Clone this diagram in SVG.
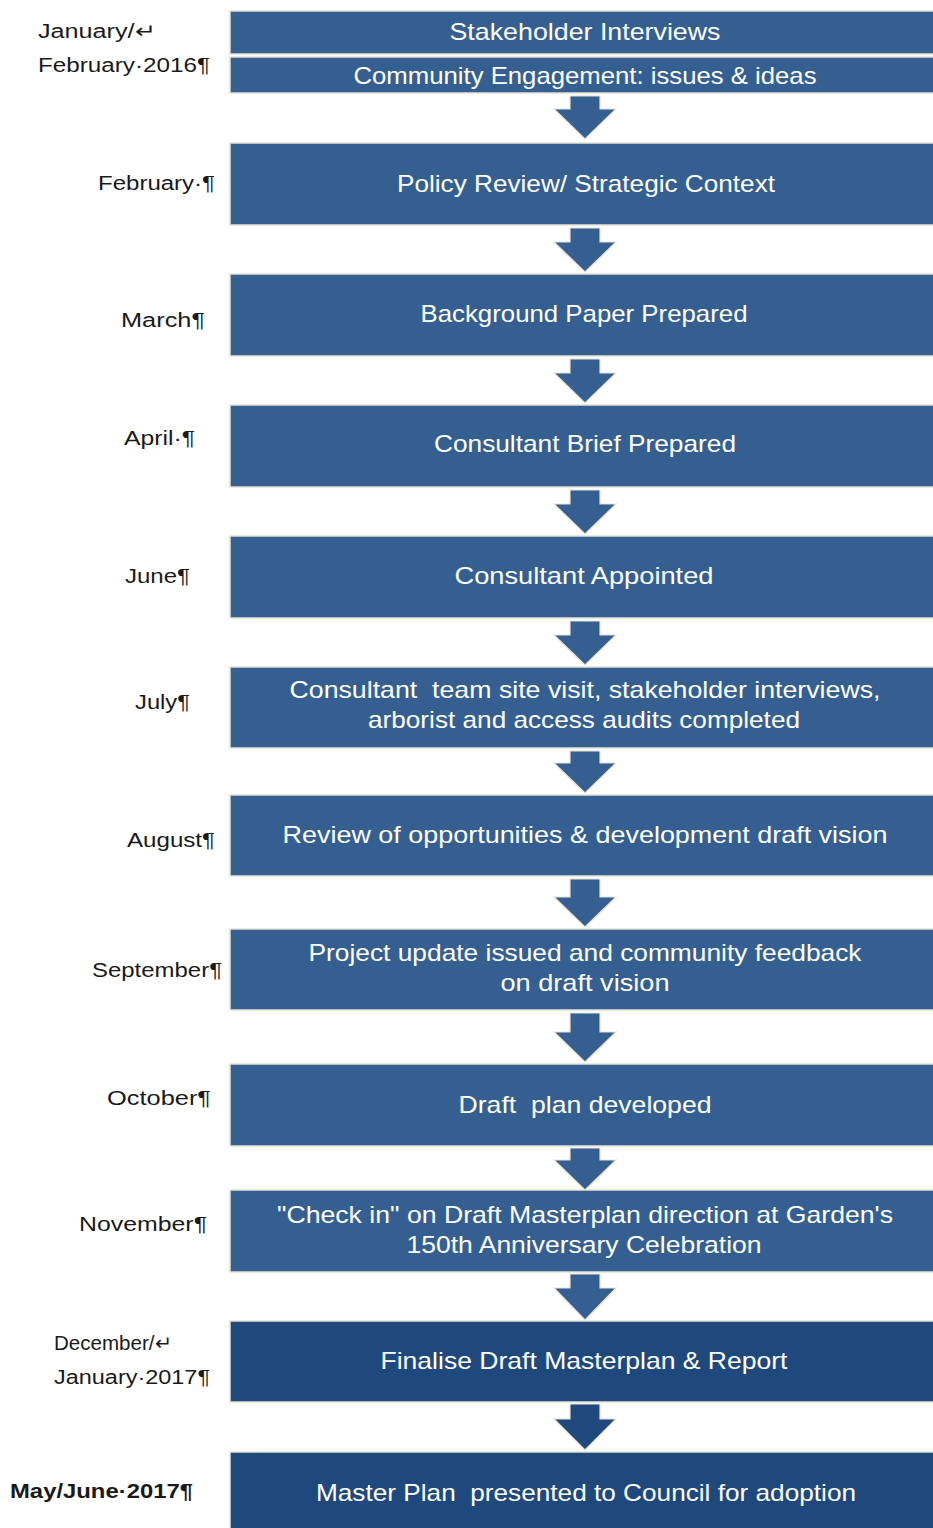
<svg xmlns="http://www.w3.org/2000/svg" width="933" height="1528" viewBox="0 0 933 1528">
<style>
.box{fill:#365F91;stroke:#E6E2D6;stroke-width:1.5}
.dark{fill:#1F497D}
.arr{fill:#365F91;stroke:#E6E2D6;stroke-width:1.2}
.arrd{fill:#1F497D;stroke:#E6E2D6;stroke-width:1.2}
.bt{font-family:"Liberation Sans Narrow","Liberation Sans",Arial,sans-serif;font-size:24px;fill:#FFFFFF;text-anchor:middle}
.lb{font-family:"Liberation Sans","Open Sans",Arial,sans-serif;font-size:20px;fill:#1a1a1a}
.lbb{font-weight:bold}
</style>
<rect width="933" height="1528" fill="#FFFFFF"/>
<g id="connectors">
<path class="arr" d="M570,96 H600 V109 H616 L585,139 L554,109 H570 Z"/>
<path class="arr" d="M570,228 H600 V242 H616 L585,272 L554,242 H570 Z"/>
<path class="arr" d="M570,359 H600 V373 H616 L585,403 L554,373 H570 Z"/>
<path class="arr" d="M570,490 H600 V504 H616 L585,534 L554,504 H570 Z"/>
<path class="arr" d="M570,621 H600 V635 H616 L585,665 L554,635 H570 Z"/>
<path class="arr" d="M570,751 H600 V763 H616 L585,793 L554,763 H570 Z"/>
<path class="arr" d="M570,879 H600 V897 H616 L585,927 L554,897 H570 Z"/>
<path class="arr" d="M570,1013 H600 V1032 H616 L585,1062 L554,1032 H570 Z"/>
<path class="arr" d="M570,1148 H600 V1160 H616 L585,1190 L554,1160 H570 Z"/>
<path class="arr" d="M570,1274 H600 V1288 H616 L585,1320 L554,1288 H570 Z"/>
<path class="arrd" d="M570,1404 H600 V1419 H616 L585,1450 L554,1419 H570 Z"/>
</g>
<g id="labels">
<text class="lb" x="38" y="38" textLength="118" lengthAdjust="spacingAndGlyphs">January/↵</text>
<text class="lb" x="38" y="72" textLength="172" lengthAdjust="spacingAndGlyphs">February·2016¶</text>
<text class="lb" x="98" y="190" textLength="117" lengthAdjust="spacingAndGlyphs">February·¶</text>
<text class="lb" x="121" y="327" textLength="84" lengthAdjust="spacingAndGlyphs">March¶</text>
<text class="lb" x="124" y="445" textLength="71" lengthAdjust="spacingAndGlyphs">April·¶</text>
<text class="lb" x="125" y="583" textLength="65" lengthAdjust="spacingAndGlyphs">June¶</text>
<text class="lb" x="135" y="709" textLength="55" lengthAdjust="spacingAndGlyphs">July¶</text>
<text class="lb" x="127" y="847" textLength="88" lengthAdjust="spacingAndGlyphs">August¶</text>
<text class="lb" x="92" y="977" textLength="130" lengthAdjust="spacingAndGlyphs">September¶</text>
<text class="lb" x="107" y="1105" textLength="104" lengthAdjust="spacingAndGlyphs">October¶</text>
<text class="lb" x="79" y="1231" textLength="128" lengthAdjust="spacingAndGlyphs">November¶</text>
<text class="lb" x="54" y="1350" textLength="118" lengthAdjust="spacingAndGlyphs">December/↵</text>
<text class="lb" x="54" y="1384" textLength="156" lengthAdjust="spacingAndGlyphs">January·2017¶</text>
<text class="lb lbb" x="10" y="1498" textLength="183" lengthAdjust="spacingAndGlyphs">May/June·2017¶</text>
</g>
<g id="n1"><rect class="box" x="230" y="11" width="710" height="43"/><text class="bt" x="585" y="40" textLength="271" lengthAdjust="spacingAndGlyphs">Stakeholder Interviews</text></g>
<g id="n2"><rect class="box" x="230" y="57" width="710" height="36"/><text class="bt" x="585" y="84" textLength="463" lengthAdjust="spacingAndGlyphs">Community Engagement: issues &amp; ideas</text></g>
<g id="n3"><rect class="box" x="230" y="143" width="710" height="82"/><text class="bt" x="586" y="192" textLength="378" lengthAdjust="spacingAndGlyphs">Policy Review/ Strategic Context</text></g>
<g id="n4"><rect class="box" x="230" y="274" width="710" height="82"/><text class="bt" x="584" y="322" textLength="327" lengthAdjust="spacingAndGlyphs">Background Paper Prepared</text></g>
<g id="n5"><rect class="box" x="230" y="405" width="710" height="82"/><text class="bt" x="585" y="452" textLength="302" lengthAdjust="spacingAndGlyphs">Consultant Brief Prepared</text></g>
<g id="n6"><rect class="box" x="230" y="536" width="710" height="82"/><text class="bt" x="584" y="584" textLength="259" lengthAdjust="spacingAndGlyphs">Consultant Appointed</text></g>
<g id="n7"><rect class="box" x="230" y="667" width="710" height="81"/><text class="bt" x="585" y="698" textLength="591" lengthAdjust="spacingAndGlyphs" xml:space="preserve">Consultant  team site visit, stakeholder interviews,</text><text class="bt" x="584" y="728" textLength="432" lengthAdjust="spacingAndGlyphs">arborist and access audits completed</text></g>
<g id="n8"><rect class="box" x="230" y="795" width="710" height="81"/><text class="bt" x="585" y="843" textLength="605" lengthAdjust="spacingAndGlyphs">Review of opportunities &amp; development draft vision</text></g>
<g id="n9"><rect class="box" x="230" y="929" width="710" height="81"/><text class="bt" x="585" y="961" textLength="553" lengthAdjust="spacingAndGlyphs">Project update issued and community feedback</text><text class="bt" x="585" y="991" textLength="169" lengthAdjust="spacingAndGlyphs">on draft vision</text></g>
<g id="n10"><rect class="box" x="230" y="1064" width="710" height="82"/><text class="bt" x="585" y="1113" textLength="253" lengthAdjust="spacingAndGlyphs" xml:space="preserve">Draft  plan developed</text></g>
<g id="n11"><rect class="box" x="230" y="1190" width="710" height="82"/><text class="bt" x="585" y="1223" textLength="616" lengthAdjust="spacingAndGlyphs">"Check in" on Draft Masterplan direction at Garden's</text><text class="bt" x="584" y="1253" textLength="355" lengthAdjust="spacingAndGlyphs">150th Anniversary Celebration</text></g>
<g id="n12"><rect class="box dark" x="230" y="1321" width="710" height="81"/><text class="bt" x="584" y="1369" textLength="407" lengthAdjust="spacingAndGlyphs">Finalise Draft Masterplan &amp; Report</text></g>
<g id="n13"><rect class="box dark" x="230" y="1452" width="710" height="90"/><text class="bt" x="586" y="1501" textLength="540" lengthAdjust="spacingAndGlyphs" xml:space="preserve">Master Plan  presented to Council for adoption</text></g>
</svg>
